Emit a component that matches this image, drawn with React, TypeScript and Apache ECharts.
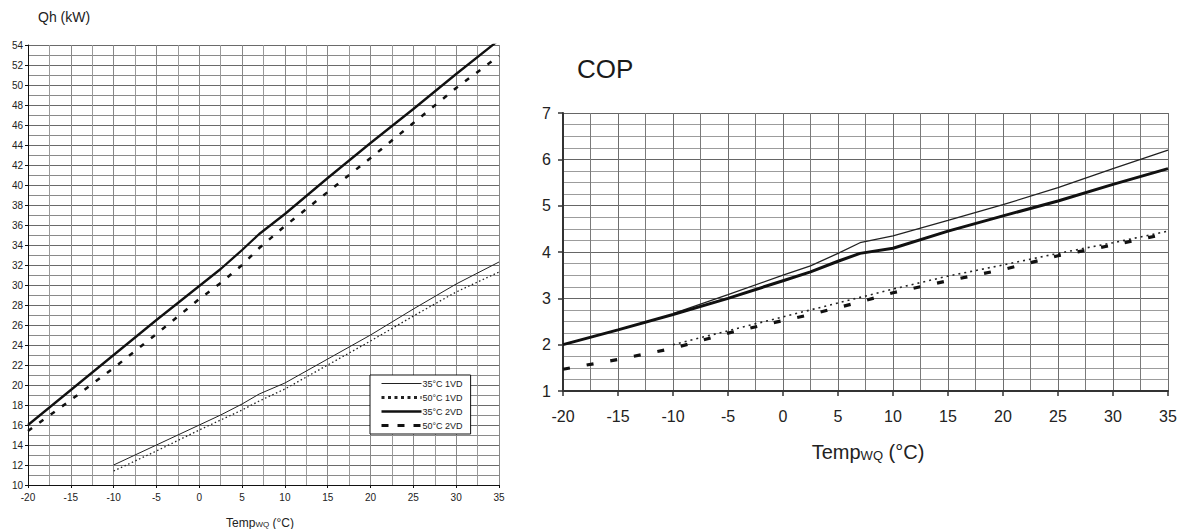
import React, { useEffect, useRef } from "react";
import * as echarts from "echarts";

// ---------- data ----------
const tempsLeft2VD = [-20, -15, -10, -5, 0, 2.5, 5, 7, 10, 15, 20, 25, 30, 35];
const qh35_2VD = [16.0, 19.5, 23.0, 26.5, 29.9, 31.6, 33.5, 35.1, 37.1, 40.7, 44.2, 47.6, 51.1, 54.5];
const qh50_2VD = [15.4, 18.5, 21.7, 25.1, 28.6, 30.2, 32.0, 33.7, 35.9, 39.3, 42.7, 46.2, 49.7, 52.9];
const tempsLeft1VD = [-10, -5, 0, 2.5, 5, 7, 10, 15, 20, 25, 30, 35];
const qh35_1VD = [12.0, 14.0, 16.0, 17.0, 18.1, 19.1, 20.2, 22.6, 25.0, 27.6, 30.1, 32.3];
const qh50_1VD = [11.4, 13.4, 15.5, 16.5, 17.5, 18.4, 19.6, 22.0, 24.4, 26.9, 29.3, 31.3];

const tempsCop2VD = [-20, -15, -10, -5, 0, 2.5, 5, 7, 10, 15, 20, 25, 30, 35];
const cop35_2VD = [2.0, 2.32, 2.65, 3.0, 3.38, 3.57, 3.8, 3.97, 4.08, 4.45, 4.78, 5.1, 5.46, 5.8];
const cop50_2VD = [1.47, 1.68, 1.92, 2.25, 2.52, 2.65, 2.8, 2.92, 3.12, 3.38, 3.62, 3.92, 4.15, 4.4];
const tempsCop1VD = [-10, -5, 0, 2.5, 5, 7, 10, 15, 20, 25, 30, 35];
const cop35_1VD = [2.67, 3.08, 3.5, 3.7, 3.97, 4.2, 4.35, 4.68, 5.02, 5.39, 5.8, 6.2];
const tempsCop1VDdot = [-10, -5, 0, 5, 10, 15, 20, 25, 30, 35];
const cop50_1VD = [2.0, 2.3, 2.6, 2.9, 3.2, 3.48, 3.72, 3.97, 4.2, 4.45];

const legendNames = ["35°C 1VD", "50°C 1VD", "35°C 2VD", "50°C 2VD"];

const FONT = '"Liberation Sans", Arial, sans-serif';
const TXT = "#222";

const pairs = (xs: number[], ys: number[]) => xs.map((x, i) => [x, ys[i]]);

export default function App() {
  const ref = useRef<HTMLDivElement>(null);
  useEffect(() => {
    if (!ref.current) return;
    const chart = echarts.init(ref.current, undefined, { renderer: "svg" });
    const lineBase = { type: "line", symbol: "none", showSymbol: false, smooth: false };
    const option: any = {
      animation: false,
      backgroundColor: "#fff",
      textStyle: { fontFamily: FONT },
      grid: [
        { left: 28, top: 45, width: 471, height: 440 },
        { left: 563, top: 113, width: 605, height: 278 },
      ],
      xAxis: [
        {
          gridIndex: 0, type: "value", min: -20, max: 35, interval: 5,
          axisLine: { onZero: false, lineStyle: { color: "#111", width: 1 } },
          axisTick: { length: 3, lineStyle: { color: "#111" } },
          axisLabel: { fontSize: 10, color: TXT, margin: 7, fontFamily: FONT },
          splitLine: { show: true, lineStyle: { color: "#888", width: 1 } },
          minorTick: { show: false, splitNumber: 2 },
          minorSplitLine: { show: true, lineStyle: { color: "#9a9a9a", width: 1 } },
        },
        {
          gridIndex: 1, type: "value", min: -20, max: 35, interval: 5,
          axisLine: { onZero: false, lineStyle: { color: "#333", width: 2 } },
          axisTick: { length: 5, lineStyle: { color: "#333", width: 1.5 } },
          axisLabel: { fontSize: 16, color: TXT, margin: 17, fontFamily: FONT },
          splitLine: { show: true, lineStyle: { color: "#6e6e6e", width: 1 } },
          minorTick: { show: false, splitNumber: 2 },
          minorSplitLine: { show: true, lineStyle: { color: "#7a7a7a", width: 1 } },
        },
      ],
      yAxis: [
        {
          gridIndex: 0, type: "value", min: 10, max: 54, interval: 2,
          axisLine: { show: true, onZero: false, lineStyle: { color: "#111", width: 1 } },
          axisTick: { show: true, length: 3, lineStyle: { color: "#111" } },
          axisLabel: { fontSize: 10, color: TXT, margin: 5, fontFamily: FONT },
          splitLine: { show: true, lineStyle: { color: "#6a6a6a", width: 1 } },
          minorTick: { show: false, splitNumber: 2 },
          minorSplitLine: { show: true, lineStyle: { color: "#8a8a8a", width: 1 } },
        },
        {
          gridIndex: 1, type: "value", min: 1, max: 7, interval: 1,
          axisLine: { show: true, onZero: false, lineStyle: { color: "#333", width: 2 } },
          axisTick: { show: true, length: 5, lineStyle: { color: "#333", width: 1.5 } },
          axisLabel: { fontSize: 16, color: TXT, margin: 12, fontFamily: FONT },
          splitLine: { show: true, lineStyle: { color: "#666", width: 1 } },
          minorTick: { show: false, splitNumber: 4 },
          minorSplitLine: { show: true, lineStyle: { color: "#9c9c9c", width: 1 } },
        },
      ],
      legend: {
        left: 370, top: 375, orient: "vertical",
        backgroundColor: "#fff", borderColor: "#111", borderWidth: 1,
        padding: [4, 8, 4, 10], itemWidth: 40, itemHeight: 10, itemGap: 5,
        itemStyle: { opacity: 0 },
        textStyle: { fontSize: 9, color: TXT, fontFamily: FONT, padding: [0, 0, 0, -4] },
        data: [
          { name: legendNames[0], itemStyle: { opacity: 0 }, lineStyle: { width: 1, type: "solid" } },
          { name: legendNames[1], itemStyle: { opacity: 0 }, lineStyle: { width: 3, type: [3, 3.5] } },
          { name: legendNames[2], itemStyle: { opacity: 0 }, lineStyle: { width: 2.5, type: "solid" } },
          { name: legendNames[3], itemStyle: { opacity: 0 }, lineStyle: { width: 3, type: [7, 9] } },
        ],
      },
      series: [
        { ...lineBase, name: legendNames[0], xAxisIndex: 0, yAxisIndex: 0, data: pairs(tempsLeft1VD, qh35_1VD), lineStyle: { color: "#222", width: 1 }, itemStyle: { color: "#222" } },
        { ...lineBase, name: legendNames[1], xAxisIndex: 0, yAxisIndex: 0, data: pairs(tempsLeft1VD, qh50_1VD), lineStyle: { color: "#222", width: 1.3, type: [1.5, 2.5] }, itemStyle: { color: "#222" } },
        { ...lineBase, name: legendNames[2], xAxisIndex: 0, yAxisIndex: 0, data: pairs(tempsLeft2VD, qh35_2VD), lineStyle: { color: "#111", width: 2.3 }, itemStyle: { color: "#111" } },
        { ...lineBase, name: legendNames[3], xAxisIndex: 0, yAxisIndex: 0, data: pairs(tempsLeft2VD, qh50_2VD), lineStyle: { color: "#111", width: 2.5, type: [5, 9] }, itemStyle: { color: "#111" } },
        { ...lineBase, name: "COP 35°C 1VD", xAxisIndex: 1, yAxisIndex: 1, data: pairs(tempsCop1VD, cop35_1VD), lineStyle: { color: "#222", width: 1.3 } },
        { ...lineBase, name: "COP 50°C 1VD", xAxisIndex: 1, yAxisIndex: 1, data: pairs(tempsCop1VDdot, cop50_1VD), lineStyle: { color: "#222", width: 1.6, type: [2, 4] } },
        { ...lineBase, name: "COP 35°C 2VD", xAxisIndex: 1, yAxisIndex: 1, data: pairs(tempsCop2VD, cop35_2VD), lineStyle: { color: "#111", width: 3 } },
        { ...lineBase, name: "COP 50°C 2VD", xAxisIndex: 1, yAxisIndex: 1, data: pairs(tempsCop2VD, cop50_2VD), lineStyle: { color: "#111", width: 3.2, type: [7, 17] } },
      ],
      graphic: [
        { type: "text", x: 38, y: 10, style: { text: "Qh (kW)", font: `14px ${FONT}`, fill: TXT } },
        { type: "text", x: 577, y: 56, style: { text: "COP", font: `26px ${FONT}`, fill: "#1a1a1a" } },
        {
          type: "text", x: 260, y: 521,
          style: {
            text: "{a|Temp}{s|WQ}{a| (°C)}", align: "center", verticalAlign: "middle",
            rich: {
              a: { fontSize: 12, lineHeight: 15, verticalAlign: "bottom", fontFamily: FONT, fill: TXT },
              s: { fontSize: 8, lineHeight: 6, verticalAlign: "bottom", fontFamily: FONT, fill: TXT },
            },
          },
        },
        {
          type: "text", x: 868, y: 450,
          style: {
            text: "{a|Temp}{s|WQ}{a| (°C)}", align: "center", verticalAlign: "middle",
            rich: {
              a: { fontSize: 20, lineHeight: 24, verticalAlign: "bottom", fontFamily: FONT, fill: TXT },
              s: { fontSize: 13, lineHeight: 6, verticalAlign: "bottom", fontFamily: FONT, fill: TXT },
            },
          },
        },
      ],
    };
    chart.setOption(option);
    return () => chart.dispose();
  }, []);
  return (
    <div
      ref={ref}
      style={{ position: "fixed", left: 0, top: 0, width: 1184, height: 529, background: "#fff" }}
    />
  );
}
